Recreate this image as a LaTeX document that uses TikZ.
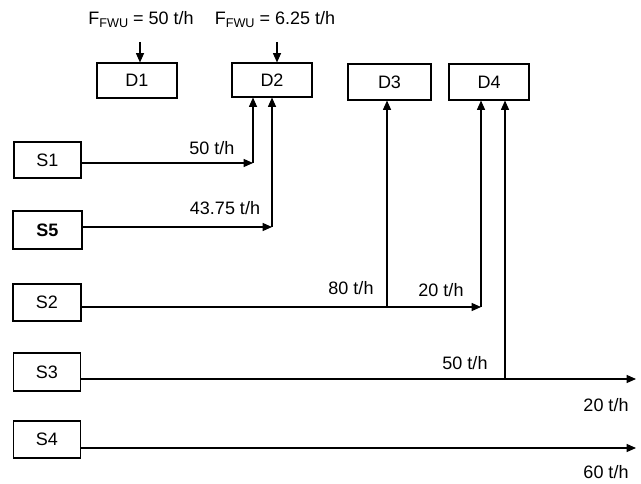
\documentclass[tikz,border=0pt]{standalone}
\usepackage{fontspec}
\setmainfont{Liberation Sans}
\usetikzlibrary{arrows.meta}
\begin{document}
\begin{tikzpicture}[x=0.75pt,y=-0.75pt,
  font=\fontsize{13.5}{16}\selectfont,
  box/.style={draw, line width=0.8pt, inner sep=0pt},
  flow/.style={line width=0.9pt, -{Triangle[length=7pt,width=6pt]}},
  plain/.style={line width=0.9pt},
  lbl/.style={inner sep=0pt}]
\useasboundingbox (0,0) rectangle (641,484);
\newcommand{\fsub}[1]{F\raisebox{-2.2pt}{\fontsize{9.5}{10}\selectfont #1}}
% D boxes
\node[box, minimum width=60pt, minimum height=26.25pt] (D1) at (137,80.5) {D1};
\node[box, minimum width=60pt, minimum height=25.5pt] (D2) at (272,80) {D2};
\node[box, minimum width=62.25pt, minimum height=27pt] (D3) at (389.5,82) {D3};
\node[box, minimum width=60pt, minimum height=27pt] (D4) at (489,82) {D4};
% S boxes
\node[box, minimum width=50.25pt, minimum height=27pt] (S1) at (47.5,160) {S1};
\node[box, line width=1.1pt, minimum width=51.75pt, minimum height=28.5pt] (S5) at (47.5,230) {\bfseries S5};
\node[box, minimum width=51pt, minimum height=27.75pt] (S2) at (47,302.5) {S2};
\node[box, minimum width=50.25pt, minimum height=28.5pt] (S3) at (47,372) {S3};
\node[box, minimum width=50.25pt, minimum height=27.75pt] (S4) at (47,439.5) {S4};
% top labels
\node[lbl] (F1) at (141,20) {\fsub{FWU} = 50 t/h};
\node[lbl] (F2) at (275,20) {\fsub{FWU} = 6.25 t/h};
\coordinate (f1) at (140,42);
\coordinate (f2) at (277,42);
\draw[flow] (f1) -- (f1 |- D1.north);
\draw[flow] (f2) -- (f2 |- D2.north);
% junction coordinates
\coordinate (j1) at (253,163);
\coordinate (j5) at (272,227);
\coordinate (j2) at (481,307);
\coordinate (t3) at (387,307);
\coordinate (j3) at (505,379);
\coordinate (e3) at (636,379);
\coordinate (e4) at (636,448);
% S1 -> D2
\draw[flow] (S1.east |- j1) -- (j1);
\draw[flow] (j1) -- (j1 |- D2.south);
% S5 -> D2
\draw[flow] (S5.east |- j5) -- (j5);
\draw[flow] (j5) -- (j5 |- D2.south);
% S2 -> D3, D4
\draw[flow] (S2.east |- j2) -- (j2);
\draw[flow] (t3) -- (t3 |- D3.south);
\draw[flow] (j2) -- (j2 |- D4.south);
% S3 -> D4, out
\draw[flow] (S3.east |- e3) -- (e3);
\draw[flow] (j3) -- (j3 |- D4.south);
% S4 -> out
\draw[flow] (S4.east |- e4) -- (e4);
% flow labels
\node[lbl] (l1) at (212,148) {50 t/h};
\node[lbl] (l5) at (225,208) {43.75 t/h};
\node[lbl] (l80) at (351,288) {80 t/h};
\node[lbl] (l20a) at (441,290) {20 t/h};
\node[lbl] (l50) at (465,363) {50 t/h};
\node[lbl] (l20b) at (606,405) {20 t/h};
\node[lbl] (l60) at (606,472) {60 t/h};
\end{tikzpicture}
\end{document}
